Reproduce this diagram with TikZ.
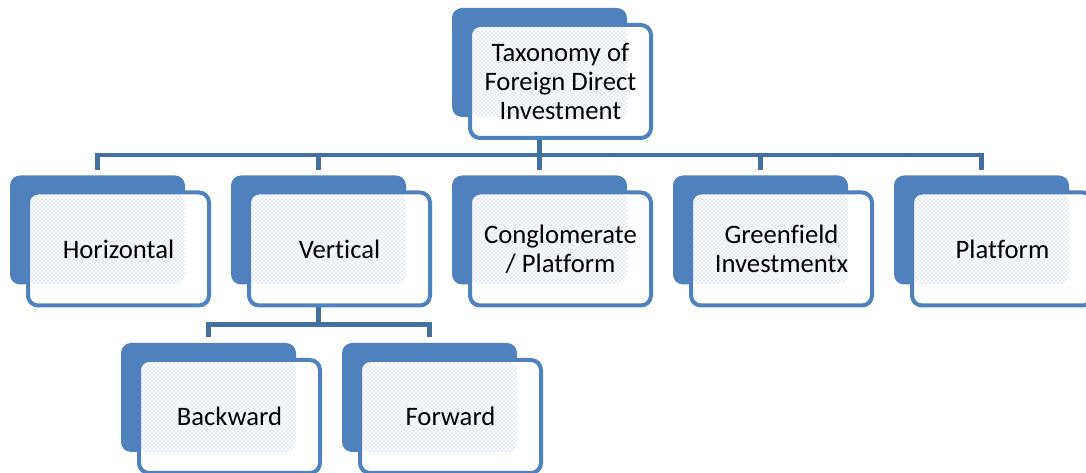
\documentclass[tikz,border=0pt]{standalone}
\usepackage{fontspec}
\setmainfont[Ligatures=NoCommon]{Carlito}
\usetikzlibrary{patterns,backgrounds}

\definecolor{boxblue}{HTML}{4F81BD}
\definecolor{linkblue}{HTML}{44709F}
\definecolor{dotblue}{HTML}{8EA9D2}

\tikzset{
  backbox/.style={rectangle, rounded corners=7.5pt, fill=boxblue, minimum width=131.25pt, minimum height=81.75pt, inner sep=0pt, outer sep=0pt},
  frontbox/.style={rectangle, rounded corners=7.5pt, draw=boxblue, line width=3pt, fill=white, minimum width=135.75pt, minimum height=84.75pt, inner sep=0pt, outer sep=0pt, anchor=north west, align=center, font=\fontsize{20}{21.8}\selectfont,
    path picture={\fill[pattern=crosshatch dots, pattern color=dotblue] (path picture bounding box.north west) rectangle (#1.south east);}},
  link/.style={draw=linkblue, line width=3.4pt}
}

\begin{document}
\begin{tikzpicture}[x=0.75pt, y=-0.75pt]
\useasboundingbox (0,0) rectangle (1086,473);

% back boxes
\node[backbox] (btop) at (539.5,62.5) {};
\node[backbox] (bhor) at (97.5,230) {};
\node[backbox] (bver) at (318.5,230) {};
\node[backbox] (bcon) at (539.5,230) {};
\node[backbox] (bgre) at (760.5,230) {};
\node[backbox] (bpla) at (981.5,230) {};
\node[backbox] (bbac) at (208.5,397.5) {};
\node[backbox] (bfor) at (429.5,397.5) {};

% front boxes
\node[frontbox=btop] (ftop) at ([shift={(18,17)}]btop.north west) {Taxonomy of\\Foreign Direct\\Investment};
\node[frontbox=bhor] (fhor) at ([shift={(18,17)}]bhor.north west) {Horizontal};
\node[frontbox=bver] (fver) at ([shift={(18,17)}]bver.north west) {Vertical};
\node[frontbox=bcon] (fcon) at ([shift={(18,17)}]bcon.north west) {Conglomerate\\/ Platform};
\node[frontbox=bgre] (fgre) at ([shift={(18,17)}]bgre.north west) {Greenfield\\Investmentx};
\node[frontbox=bpla] (fpla) at ([shift={(18,17)}]bpla.north west) {Platform};
\node[frontbox=bbac] (fbac) at ([shift={(18,17)}]bbac.north west) {Backward};
\node[frontbox=bfor] (ffor) at ([shift={(18,17)}]bfor.north west) {Forward};

\begin{scope}[on background layer]
\foreach \b in {bhor,bver,bcon,bgre,bpla}
  \draw[link, shorten >=3.75pt] (btop.south) -- ++(0,38) -| (\b.north);
\foreach \b in {bbac,bfor}
  \draw[link, shorten >=4.5pt] (bver.south) -- ++(0,40) -| (\b.north);
\end{scope}
\end{tikzpicture}
\end{document}
